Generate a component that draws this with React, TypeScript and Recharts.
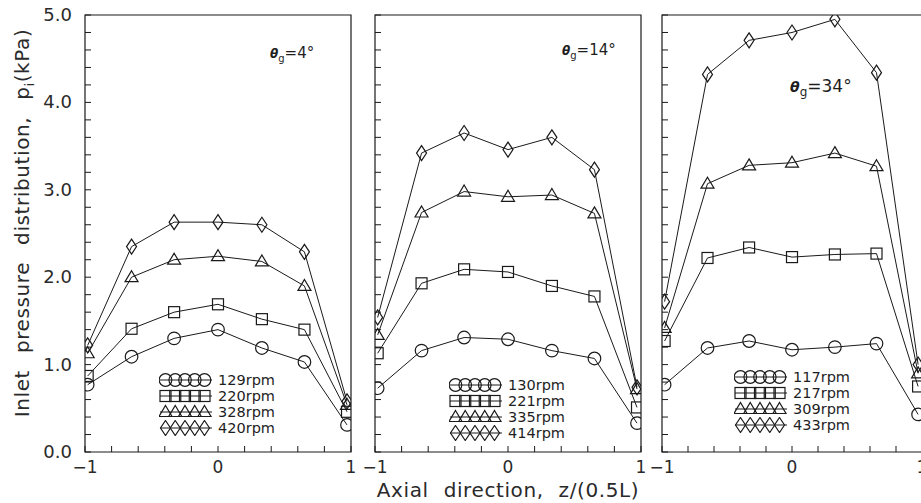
import React from 'react';
import { LineChart, Line, XAxis, YAxis, ReferenceArea, Legend } from 'recharts';

// axial measuring positions z/(0.5L)
const zPos = [-0.98, -0.65, -0.33, 0, 0.33, 0.65, 0.97];
const xTicks = [-1, -0.8, -0.6, -0.4, -0.2, 0, 0.2, 0.4, 0.6, 0.8, 1];
const xLabelTicks = [-1, 0, 1];
const yTicks = [0, 0.2, 0.4, 0.6, 0.8, 1, 1.2, 1.4, 1.6, 1.8, 2, 2.2, 2.4, 2.6, 2.8, 3, 3.2, 3.4, 3.6, 3.8, 4, 4.2, 4.4, 4.6, 4.8, 5];
const yLabelTicks = [0, 1, 2, 3, 4, 5];

// panel 1: θg = 4°
const rpm4 = ['129rpm', '220rpm', '328rpm', '420rpm'];
const p4_s1 = [0.77, 1.09, 1.30, 1.40, 1.19, 1.03, 0.31];
const p4_s2 = [0.87, 1.41, 1.60, 1.69, 1.52, 1.40, 0.46];
const p4_s3 = [1.13, 2.00, 2.20, 2.24, 2.18, 1.90, 0.54];
const p4_s4 = [1.22, 2.35, 2.63, 2.63, 2.60, 2.29, 0.58];

// panel 2: θg = 14°
const rpm14 = ['130rpm', '221rpm', '335rpm', '414rpm'];
const p14_s1 = [0.73, 1.16, 1.31, 1.29, 1.16, 1.07, 0.33];
const p14_s2 = [1.13, 1.93, 2.09, 2.06, 1.90, 1.78, 0.51];
const p14_s3 = [1.34, 2.74, 2.98, 2.92, 2.94, 2.73, 0.72];
const p14_s4 = [1.54, 3.42, 3.65, 3.46, 3.60, 3.23, 0.74];

// panel 3: θg = 34°
const rpm34 = ['117rpm', '217rpm', '309rpm', '433rpm'];
const p34_s1 = [0.77, 1.19, 1.27, 1.17, 1.20, 1.24, 0.43];
const p34_s2 = [1.27, 2.22, 2.34, 2.23, 2.26, 2.27, 0.75];
const p34_s3 = [1.42, 3.07, 3.28, 3.31, 3.42, 3.27, 0.90];
const p34_s4 = [1.72, 4.32, 4.71, 4.80, 4.95, 4.34, 1.00];

const angles = ['4°', '14°', '34°'];
const shapes = ['circle', 'square', 'triangle', 'diamond'];

const INK = '#1a1a1a';
const FONT = '"DejaVu Sans", sans-serif';

const buildRows = (series: number[][]) =>
  zPos.map((z, i) => ({ z, s0: series[0][i], s1: series[1][i], s2: series[2][i], s3: series[3][i] }));

const Marker = ({ shape, cx, cy }: { shape: string; cx: number; cy: number }) => {
  const common = { fill: 'none', stroke: INK, strokeWidth: 1.2 };
  if (shape === 'circle') return <circle cx={cx} cy={cy} r={6.3} {...common} />;
  if (shape === 'square') return <rect x={cx - 5.5} y={cy - 5.5} width={11} height={11} {...common} />;
  if (shape === 'triangle')
    return <polygon points={`${cx},${cy - 6.5} ${cx + 6.5},${cy + 4.5} ${cx - 6.5},${cy + 4.5}`} {...common} />;
  return <polygon points={`${cx},${cy - 7.5} ${cx + 5},${cy} ${cx},${cy + 7.5} ${cx - 5},${cy}`} {...common} />;
};

const XTick = (props: any) => {
  const { x, y, payload } = props;
  const v = payload.value;
  const label = xLabelTicks.includes(v);
  return (
    <g>
      <line x1={x} y1={y} x2={x} y2={y - 6} stroke={INK} strokeWidth={1} />
      {label && (
        <text x={x} y={y + 21} textAnchor="middle" fontSize={17} fontFamily={FONT} fill="#2a2a2a">
          {v < 0 ? '\u2212' + Math.abs(v) : String(v)}
        </text>
      )}
    </g>
  );
};

const makeYTick = (showLabels: boolean) => (props: any) => {
  const { x, y, payload } = props;
  const v = payload.value;
  const label = showLabels && yLabelTicks.includes(v);
  return (
    <g>
      <line x1={x} y1={y} x2={x + 6} y2={y} stroke={INK} strokeWidth={1} />
      {label && (
        <text x={x - 13} y={y + 6} textAnchor="end" fontSize={18} fontFamily={FONT} fill="#2a2a2a">
          {v.toFixed(1)}
        </text>
      )}
    </g>
  );
};

const makeLegend = (names: string[]) => () => (
  <div style={{ fontFamily: FONT, fontSize: 14, color: '#1e1e1e' }}>
    {names.map((n, i) => (
      <div key={n} style={{ display: 'flex', alignItems: 'center', height: 16 }}>
        <svg width={54} height={16} style={{ display: 'block' }}>
          <line x1={1} y1={8} x2={53} y2={8} stroke={INK} strokeWidth={1} />
          {[0, 1, 2, 3, 4].map((k) => (
            <Marker key={k} shape={shapes[i]} cx={6.5 + k * 9.75} cy={8} />
          ))}
        </svg>
        <span style={{ marginLeft: 5, lineHeight: '16px', fontSize: 14.5 }}>{n}</span>
      </div>
    ))}
  </div>
);

// plot areas: panel1 85..351, panel2 375..641, panel3 662..922 (x); 15..452 (y)
const panels = [
  { left: 0, width: 360, mLeft: 45, yW: 40, mRight: 9, rows: buildRows([p4_s1, p4_s2, p4_s3, p4_s4]), names: rpm4, showY: true, legLeft: 159, legTop: 372 },
  { left: 360, width: 290, mLeft: 5, yW: 10, mRight: 9, rows: buildRows([p14_s1, p14_s2, p14_s3, p14_s4]), names: rpm14, showY: false, legLeft: 89, legTop: 377 },
  { left: 650, width: 280, mLeft: 2, yW: 10, mRight: 8, rows: buildRows([p34_s1, p34_s2, p34_s3, p34_s4]), names: rpm34, showY: false, legLeft: 84, legTop: 369 },
];

const annot = [
  { left: 270, top: 44, size: 15 },
  { left: 562, top: 41, size: 15 },
  { left: 790, top: 76, size: 17 },
];

export default function App() {
  return (
    <div style={{ position: 'absolute', left: 0, top: 0, width: 921, height: 503, overflow: 'hidden', background: '#fff' }}>
      {panels.map((p, pi) => (
        <div key={pi} style={{ position: 'absolute', left: p.left, top: 0 }}>
          <LineChart width={p.width} height={503} data={p.rows} margin={{ top: 15, bottom: 21, left: p.mLeft, right: p.mRight }}>
            <XAxis
              dataKey="z"
              type="number"
              domain={[-1, 1]}
              ticks={xTicks}
              interval={0}
              height={30}
              tickSize={0}
              tickMargin={0}
              axisLine={false}
              tickLine={false}
              tick={XTick}
              allowDataOverflow
            />
            <YAxis
              type="number"
              domain={[0, 5]}
              ticks={yTicks}
              interval={0}
              width={p.yW}
              tickSize={0}
              tickMargin={0}
              axisLine={false}
              tickLine={false}
              tick={makeYTick(p.showY)}
              allowDataOverflow
            />
            <ReferenceArea x1={-1} x2={1} y1={0} y2={5} fill="none" stroke={INK} strokeWidth={1.2} />
            {[0, 1, 2, 3].map((k) => (
              <Line
                key={k}
                dataKey={`s${k}`}
                name={p.names[k]}
                type="linear"
                stroke={INK}
                strokeWidth={1}
                isAnimationActive={false}
                dot={(d: any) => <Marker key={`${k}-${d.index}`} shape={shapes[k]} cx={d.cx} cy={d.cy} />}
                activeDot={false}
              />
            ))}
            <Legend
              layout="vertical"
              align="center"
              verticalAlign="middle"
              content={makeLegend(p.names)}
              wrapperStyle={{ left: p.legLeft, top: p.legTop, width: 'auto', height: 'auto' }}
            />
          </LineChart>
        </div>
      ))}
      {annot.map((a, i) => (
        <div
          key={i}
          style={{ position: 'absolute', left: a.left, top: a.top, fontFamily: FONT, fontSize: a.size, color: '#1e1e1e', whiteSpace: 'nowrap' }}
        >
          <span style={{ fontWeight: 'bold', fontStyle: 'italic', fontSize: a.size - 3 }}>θ</span>
          <sub style={{ fontSize: a.size - 5 }}>g</sub>={angles[i]}
        </div>
      ))}
      <div
        style={{
          position: 'absolute',
          left: 22 - 240,
          top: 223 - 13,
          width: 480,
          height: 26,
          lineHeight: '26px',
          textAlign: 'center',
          transform: 'rotate(-90deg)',
          fontFamily: FONT,
          fontSize: 20,
          color: '#2a2a2a',
          letterSpacing: 0.6,
          wordSpacing: 10,
          whiteSpace: 'nowrap',
        }}
      >
        Inlet pressure distribution, p<sub style={{ fontSize: 13 }}>i</sub>(kPa)
      </div>
      <div
        style={{
          position: 'absolute',
          left: 508 - 200,
          top: 478,
          width: 400,
          height: 24,
          lineHeight: '24px',
          textAlign: 'center',
          fontFamily: FONT,
          fontSize: 20,
          color: '#2a2a2a',
          letterSpacing: 0.6,
          wordSpacing: 8,
          whiteSpace: 'nowrap',
        }}
      >
        Axial direction, z/(0.5L)
      </div>
    </div>
  );
}
